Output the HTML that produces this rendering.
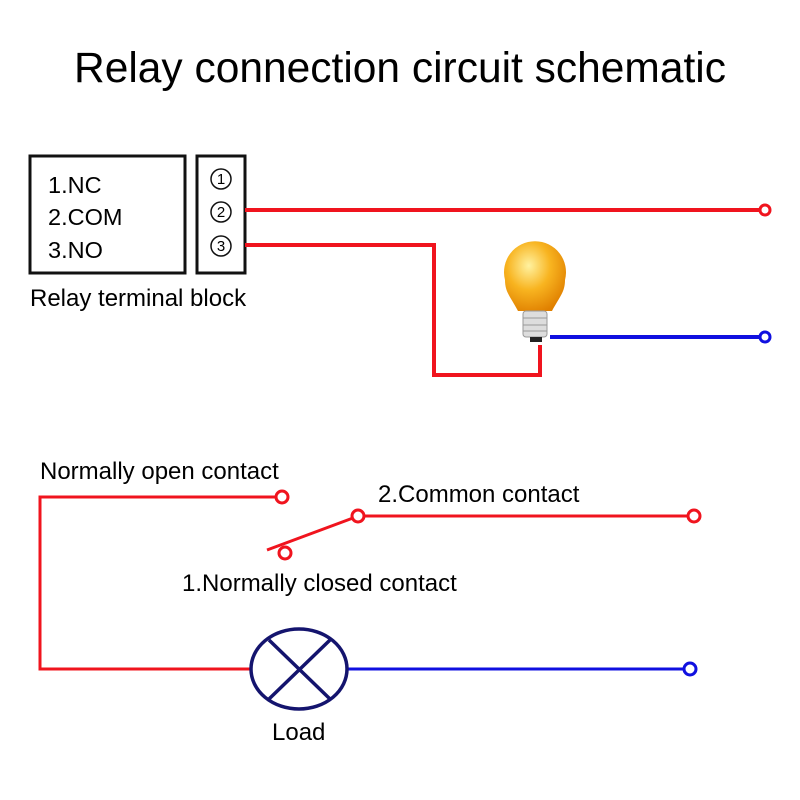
<!DOCTYPE html>
<html><head><style>body{margin:0;background:#fff}svg{display:block}</style></head><body>
<svg width="800" height="800" xmlns="http://www.w3.org/2000/svg" font-family="Liberation Sans, Arial, sans-serif">
<defs>
<radialGradient id="g" cx="0.4" cy="0.35" r="0.7"><stop offset="0" stop-color="#fff2a0"/><stop offset="0.5" stop-color="#f8b420"/><stop offset="1" stop-color="#e08000"/></radialGradient>
</defs>
<text x="400" y="82" text-anchor="middle" font-size="42.5">Relay connection circuit schematic</text>
<rect x="30" y="156" width="155" height="117" fill="none" stroke="#111" stroke-width="3"/>
<rect x="197" y="156" width="48" height="117" fill="none" stroke="#111" stroke-width="3"/>
<text x="48" y="193" font-size="23.5">1.NC</text>
<text x="48" y="225" font-size="23.5">2.COM</text>
<text x="48" y="258" font-size="23.5">3.NO</text>
<g fill="none" stroke="#111" stroke-width="1.5"><circle cx="221" cy="179" r="10"/><circle cx="221" cy="212" r="10"/><circle cx="221" cy="246" r="10"/></g>
<g font-size="15" text-anchor="middle"><text x="221" y="184">1</text><text x="221" y="217">2</text><text x="221" y="251">3</text></g>
<text x="30" y="306" font-size="24">Relay terminal block</text>
<g stroke="#f0141e" stroke-width="4" fill="none">
<line x1="245" y1="210" x2="759" y2="210"/>
<polyline points="245,245 434,245 434,375 540,375 540,345"/>
</g>
<circle cx="765" cy="210" r="5" fill="#fff" stroke="#f0141e" stroke-width="3"/>
<line x1="550" y1="337" x2="759" y2="337" stroke="#1010e0" stroke-width="4"/>
<circle cx="765" cy="337" r="5" fill="#fff" stroke="#1010e0" stroke-width="3"/>
<path d="M518 311 C510 296 505 292 505 280 A31 31 0 1 1 565 280 C565 292 560 296 552 311 Z" fill="url(#g)"/>
<rect x="523" y="311" width="24" height="26" rx="3" fill="#ddd" stroke="#999"/>
<g stroke="#999"><line x1="523" y1="318" x2="547" y2="318"/><line x1="523" y1="325" x2="547" y2="325"/><line x1="523" y1="331" x2="547" y2="331"/></g>
<rect x="530" y="337" width="12" height="5" fill="#222"/>
<text x="40" y="479" font-size="24">Normally open contact</text>
<text x="378" y="502" font-size="24">2.Common contact</text>
<text x="182" y="591" font-size="24">1.Normally closed contact</text>
<text x="272" y="740" font-size="24">Load</text>
<g stroke="#f0141e" stroke-width="3" fill="none">
<polyline points="275,497 40,497 40,669 251,669"/>
<line x1="267" y1="550" x2="353" y2="518"/>
<line x1="364" y1="516" x2="688" y2="516"/>
<circle cx="282" cy="497" r="6" fill="#fff"/>
<circle cx="358" cy="516" r="6" fill="#fff"/>
<circle cx="694" cy="516" r="6" fill="#fff"/>
<circle cx="285" cy="553" r="6" fill="#fff"/>
</g>
<line x1="347" y1="669" x2="684" y2="669" stroke="#1010e0" stroke-width="3"/>
<circle cx="690" cy="669" r="6" fill="#fff" stroke="#1010e0" stroke-width="3"/>
<g stroke="#14146e" stroke-width="3.5" fill="none">
<ellipse cx="299" cy="669" rx="48" ry="40"/>
<line x1="269" y1="640" x2="330" y2="699"/>
<line x1="330" y1="640" x2="269" y2="699"/>
</g>
</svg>
</body></html>
